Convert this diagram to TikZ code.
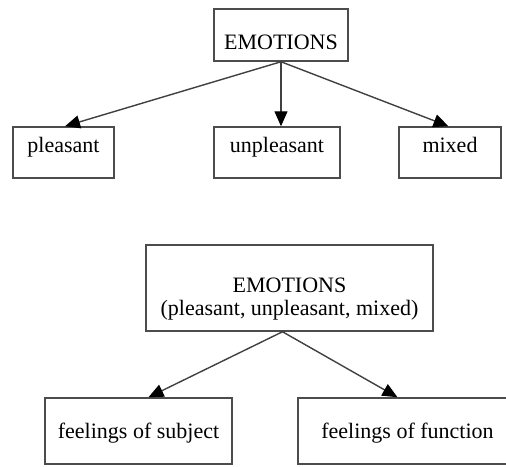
\documentclass[tikz,border=0pt]{standalone}
\usepackage{fontspec}
\setmainfont{Liberation Serif}
\usetikzlibrary{arrows.meta}

\tikzset{
  box/.style={draw=black!70, line width=1.5pt, fill=white, inner sep=0pt,
    font=\fontsize{22}{23}\selectfont, text=black},
  lowtext/.style={text height=28pt, text depth=0pt},
  midtext/.style={text height=8pt, text depth=8pt},
  subtext/.style={text height=18pt, text depth=4pt},
  tip/.tip={Triangle[length=15pt, width=13pt, color=black]},
  arr/.style={draw=black!75, line width=1.4pt, -tip},
}

\begin{document}
\begin{tikzpicture}[x=1pt, y=-1pt]
  \useasboundingbox (0,0) rectangle (506,466);
  \clip (0,0) rectangle (506,466);

  % first tree: the three kinds of emotions
  \node[box, lowtext, minimum width=134pt, minimum height=52pt] (e1) at (281,35) {EMOTIONS};
  \node[box, midtext, minimum width=101pt, minimum height=51pt] (p) at (63.5,152.5) {pleasant};
  \node[box, midtext, minimum width=126pt, minimum height=51pt] (u) at (277,152.5) {unpleasant};
  \node[box, midtext, minimum width=102pt, minimum height=51pt] (m) at (450,152.5) {mixed};

  \draw[arr] (e1.south) -- ([xshift=1.5pt]p.north);
  \draw[arr] (e1.south) -- (e1.south |- u.north);
  \draw[arr] (e1.south) -- ([xshift=-1.5pt]m.north);

  % second tree: the two kinds of feelings
  \node[box, align=center, minimum width=287pt, minimum height=86pt] (e2) at (289.5,288)
    {\rule{0pt}{36pt}EMOTIONS\\(pleasant, unpleasant, mixed)\rule[-5pt]{0pt}{5pt}};
  \node[box, subtext, minimum width=187pt, minimum height=66pt] (s) at (138.5,431) {feelings of subject};
  \node[box, subtext, minimum width=219pt, minimum height=66pt] (f) at (407.5,431) {feelings of function};

  \draw[arr] ([xshift=-7pt]e2.south) -- ([xshift=10pt]s.north);
  \draw[arr] ([xshift=-7pt]e2.south) -- ([xshift=-10pt]f.north);
\end{tikzpicture}
\end{document}
